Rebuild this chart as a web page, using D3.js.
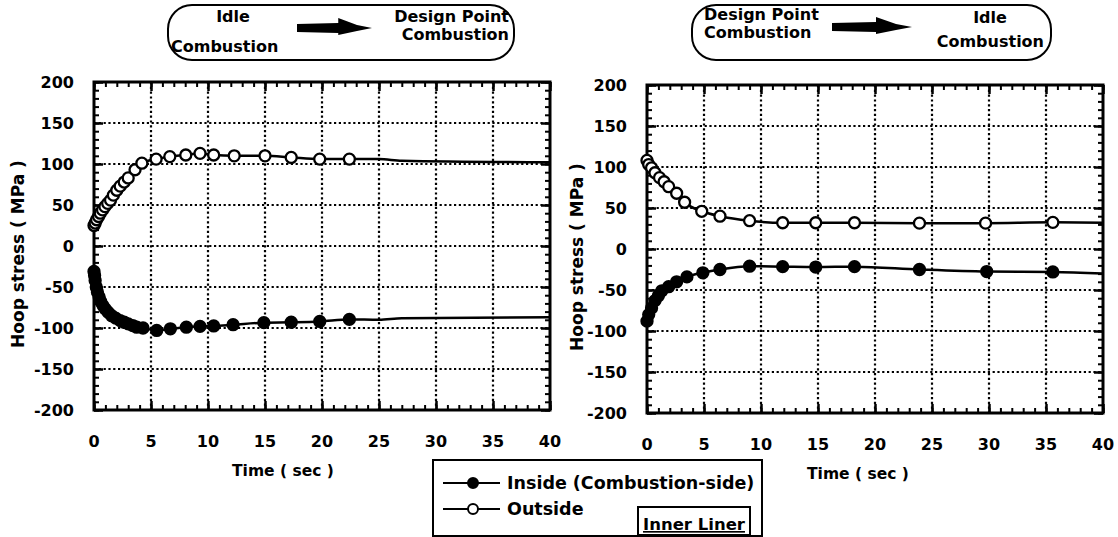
<!DOCTYPE html>
<html>
<head>
<meta charset="utf-8">
<script src="https://cdn.jsdelivr.net/npm/d3@7"></script>
<style>
  body { margin: 0; background: #fff; }
  svg text { font-family: "DejaVu Sans", "Liberation Sans", sans-serif; font-weight: bold; fill: #000; }
</style>
</head>
<body>
<script>
// datos
const xTicks = [0, 5, 10, 15, 20, 25, 30, 35, 40];
const yTicks = [-200, -150, -100, -50, 0, 50, 100, 150, 200];

// panel izquierdo: idle -> design point
const izqFueraT = [0, 0.1, 0.23, 0.4, 0.55, 0.75, 0.96, 1.2, 1.45, 1.7, 2.0, 2.3, 2.65, 3.0, 3.6, 4.2, 5.45, 6.65, 8.05, 9.3, 10.5, 12.3, 15.0, 17.3, 19.8, 22.4];
const izqFueraV = [25, 28, 32, 36, 40, 44, 48, 52, 56, 62, 68, 73, 78, 83, 93, 101, 106, 109, 111, 113, 111, 110, 110, 108, 106, 106];
const izqFueraColaT = [25, 27, 40];
const izqFueraColaV = [106, 104, 102];
const izqDentroT = [0, 0.05, 0.1, 0.2, 0.3, 0.45, 0.6, 0.8, 1.0, 1.25, 1.55, 1.9, 2.3, 2.65, 3.0, 3.4, 3.75, 4.3, 5.5, 6.7, 8.1, 9.3, 10.5, 12.2, 14.9, 17.3, 19.8, 22.4];
const izqDentroV = [-31, -36, -42, -50, -56, -62, -68, -73, -77, -81, -85, -88, -91, -93, -95, -97, -99, -100, -103, -101, -99, -98, -97.5, -96, -93.5, -93, -92, -89.5];
const izqDentroColaT = [25, 27, 40];
const izqDentroColaV = [-90, -88, -87];

// panel derecho: design point -> idle
const derFueraT = [0, 0.15, 0.4, 0.7, 1.1, 1.5, 1.9, 2.6, 3.3, 4.8, 6.4, 9.0, 11.9, 14.8, 18.2, 23.9, 29.7, 35.6];
const derFueraV = [108, 103, 99, 93, 87, 82, 76, 68, 57, 46, 40, 34.5, 32, 32, 32, 31.5, 31.5, 32.5];
const derFueraColaT = [40];
const derFueraColaV = [32];
const derDentroT = [0, 0.15, 0.4, 0.7, 1.0, 1.3, 1.9, 2.6, 3.5, 4.9, 6.4, 9.0, 11.9, 14.8, 18.2, 23.9, 29.8, 35.6];
const derDentroV = [-88, -80, -72, -63, -57, -51, -46, -40, -34, -29, -25, -21, -21.5, -22, -21.5, -25, -27.5, -28];
const derDentroColaT = [40];
const derDentroColaV = [-30];

const paneles = [
  {
    x0: 94, y0: 82, tituloX: 18, tiempoX: 232,
    caja: [168, 5, 514, 60],
    textos: [["Idle", 233, 22, "middle"], ["Combustion", 171, 52, "start"],
             ["Design Point", 509, 22, "end"], ["Combustion", 509, 40, "end"]],
    flecha: [297, 372, 28],
    fuera: [izqFueraT, izqFueraV, izqFueraColaT, izqFueraColaV],
    dentro: [izqDentroT, izqDentroV, izqDentroColaT, izqDentroColaV]
  },
  {
    x0: 647, y0: 85, tituloX: 577, tiempoX: 807,
    caja: [692, 5, 1051, 60],
    textos: [["Design Point", 704, 20, "start"], ["Combustion", 704, 38, "start"],
             ["Idle", 990, 23, "middle"], ["Combustion", 1044, 47, "end"]],
    flecha: [832, 912, 27],
    fuera: [derFueraT, derFueraV, derFueraColaT, derFueraColaV],
    dentro: [derDentroT, derDentroV, derDentroColaT, derDentroColaV]
  }
];

const ancho = 456, alto = 328;
const svg = d3.select("body").append("svg").attr("width", 1118).attr("height", 537);

function flecha(g, xa, xb, y) {
  // flecha gruesa tipo pluma
  let L = xb - xa;
  let p = d3.path();
  p.moveTo(xa, y - 4);
  p.lineTo(xa + L * 0.55, y - 5);
  p.lineTo(xa + L * 0.55, y - 10);
  p.lineTo(xa + L * 0.8, y - 3);
  p.lineTo(xb, y);
  p.lineTo(xa + L * 0.8, y + 3);
  p.lineTo(xa + L * 0.55, y + 7);
  p.lineTo(xa + L * 0.55, y + 5);
  p.lineTo(xa, y + 4);
  p.closePath();
  g.append("path").attr("d", p.toString()).attr("fill", "#000");
}

paneles.forEach(function (P) {
  let x = d3.scaleLinear().domain([0, 40]).range([P.x0, P.x0 + ancho]);
  let y = d3.scaleLinear().domain([-200, 200]).range([P.y0 + alto, P.y0]);
  let g = svg.append("g");

  // rejilla punteada
  g.selectAll(".vx").data(xTicks.slice(1, -1)).enter().append("line")
    .attr("x1", d => x(d)).attr("x2", d => x(d))
    .attr("y1", P.y0).attr("y2", P.y0 + alto)
    .attr("stroke", "#000").attr("stroke-width", 2.2).attr("stroke-dasharray", "2.2,2.6");
  g.selectAll(".hy").data(yTicks.slice(1, -1)).enter().append("line")
    .attr("y1", d => y(d)).attr("y2", d => y(d))
    .attr("x1", P.x0).attr("x2", P.x0 + ancho)
    .attr("stroke", "#000").attr("stroke-width", 2.2).attr("stroke-dasharray", "2.2,2.6");

  // ticks menores y mayores hacia dentro
  let menX = d3.range(0, 41, 1), menY = d3.range(-200, 201, 10);
  let ejes = [
    [d3.axisBottom(x), "translate(0," + (P.y0 + alto) + ")", menX, xTicks],
    [d3.axisTop(x), "translate(0," + P.y0 + ")", menX, xTicks],
    [d3.axisLeft(y), "translate(" + P.x0 + ",0)", menY, yTicks],
    [d3.axisRight(y), "translate(" + (P.x0 + ancho) + ",0)", menY, yTicks]
  ];
  ejes.forEach(function (e) {
    let a = e[0];
    g.append("g").attr("transform", e[1])
      .call(a.tickValues(e[2]).tickSize(-5).tickFormat(""))
      .call(s => s.select(".domain").remove())
      .selectAll("line").attr("stroke-width", 2);
    g.append("g").attr("transform", e[1])
      .call(a.tickValues(e[3]).tickSize(-9).tickFormat(""))
      .call(s => s.select(".domain").remove())
      .selectAll("line").attr("stroke-width", 2.5);
  });

  // marco
  g.append("rect").attr("x", P.x0).attr("y", P.y0).attr("width", ancho).attr("height", alto)
    .attr("fill", "none").attr("stroke", "#000").attr("stroke-width", 3);

  // etiquetas
  g.selectAll(".lx").data(xTicks).enter().append("text")
    .attr("x", d => x(d)).attr("y", P.y0 + alto + 37)
    .attr("text-anchor", "middle").attr("font-size", 16).text(d => d);
  g.selectAll(".ly").data(yTicks).enter().append("text")
    .attr("x", P.x0 - 20).attr("y", d => y(d) + 6)
    .attr("text-anchor", "end").attr("font-size", 16).text(d => d);
  g.append("text").attr("x", P.tiempoX).attr("y", P.y0 + alto + 66)
    .attr("font-size", 15.5).text("Time ( sec )");
  g.append("text")
    .attr("transform", "translate(" + (P.tituloX + 6) + "," + (P.y0 + 172) + ") rotate(-90)")
    .attr("text-anchor", "middle").attr("font-size", 17).text("Hoop stress ( MPa )");

  // curvas
  let linea = d3.line().x(d => x(d[0])).y(d => y(d[1])).curve(d3.curveMonotoneX);
  [["fuera", "#fff"], ["dentro", "#000"]].forEach(function (s) {
    let D = P[s[0]];
    let pts = D[0].map((t, i) => [t, D[1][i]]);
    let cola = D[2].map((t, i) => [t, D[3][i]]);
    g.append("path").datum(pts.concat(cola)).attr("d", linea)
      .attr("fill", "none").attr("stroke", "#000").attr("stroke-width", 2.5);
    g.selectAll(".m" + s[0]).data(pts).enter().append("circle")
      .attr("cx", d => x(d[0])).attr("cy", d => y(d[1])).attr("r", 5.5)
      .attr("fill", s[1]).attr("stroke", "#000").attr("stroke-width", 2.3);
  });

  // caja de encabezado
  let c = P.caja;
  g.append("rect").attr("x", c[0]).attr("y", c[1]).attr("width", c[2] - c[0]).attr("height", c[3] - c[1])
    .attr("rx", 24).attr("ry", 24).attr("fill", "none").attr("stroke", "#000").attr("stroke-width", 2);
  P.textos.forEach(function (t) {
    g.append("text").attr("x", t[1]).attr("y", t[2]).attr("text-anchor", t[3])
      .attr("font-size", 16).text(t[0]);
  });
  flecha(g, P.flecha[0], P.flecha[1], P.flecha[2]);
});

// leyenda
const leyenda = svg.append("g");
leyenda.append("rect").attr("x", 433).attr("y", 460).attr("width", 329).attr("height", 76)
  .attr("fill", "none").attr("stroke", "#000").attr("stroke-width", 2);
const series = [["Inside (Combustion-side)", "#000", 483], ["Outside", "#fff", 509]];
series.forEach(function (s) {
  leyenda.append("line").attr("x1", 443).attr("x2", 500).attr("y1", s[2]).attr("y2", s[2])
    .attr("stroke", "#000").attr("stroke-width", 2);
  leyenda.append("circle").attr("cx", 473).attr("cy", s[2]).attr("r", 5)
    .attr("fill", s[1]).attr("stroke", "#000").attr("stroke-width", 2);
  leyenda.append("text").attr("x", 507).attr("y", s[2] + 6).attr("font-size", 17.5).text(s[0]);
});
leyenda.append("rect").attr("x", 638).attr("y", 507).attr("width", 112).attr("height", 28)
  .attr("fill", "none").attr("stroke", "#000").attr("stroke-width", 2);
leyenda.append("text").attr("x", 694).attr("y", 530).attr("text-anchor", "middle").attr("font-size", 16.5)
  .attr("text-decoration", "underline").text("Inner Liner");
</script>
</body>
</html>
